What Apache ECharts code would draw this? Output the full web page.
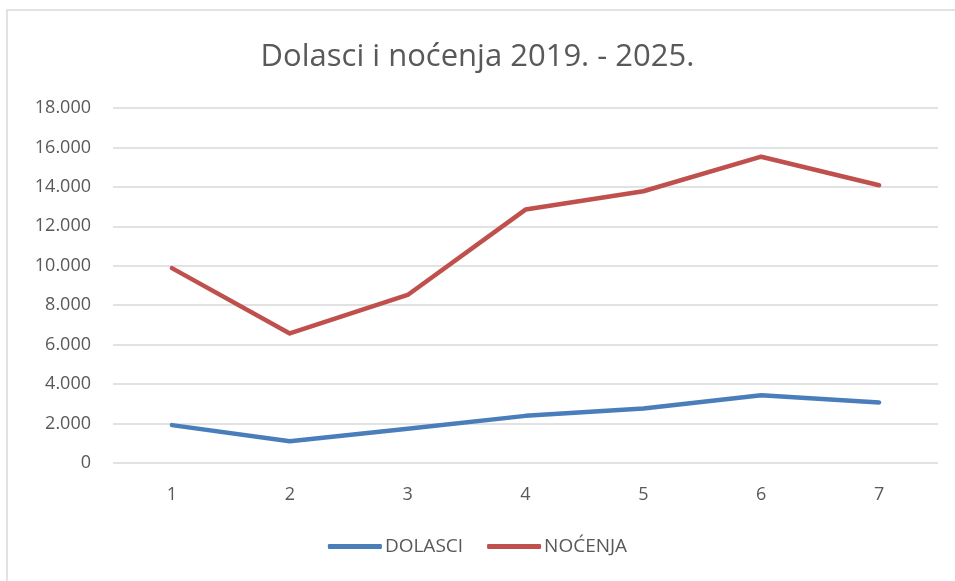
<!DOCTYPE html>
<html>
<head>
<meta charset="utf-8">
<script src="https://cdn.jsdelivr.net/npm/echarts@6/dist/echarts.min.js"></script>
<style>
  html, body { margin: 0; padding: 0; background: #fff; }
  #chart { width: 955px; height: 581px; }
</style>
</head>
<body>
<div id="chart"></div>
<script>
// podaci
const categories = ['1', '2', '3', '4', '5', '6', '7'];
const dolasci = [1920, 1100, 1740, 2390, 2760, 3440, 3070];
const nocenja = [9880, 6570, 8520, 12850, 13780, 15530, 14080];
const yTicks = [0, 2000, 4000, 6000, 8000, 10000, 12000, 14000, 16000, 18000];

const textColor = '#595959';
const fontFamily = '"Open Sans", "Noto Sans", sans-serif';

const chart = echarts.init(document.getElementById('chart'));

const option = {
  animation: false,
  backgroundColor: '#fff',
  title: {
    text: 'Dolasci i noćenja 2019. - 2025.',
    left: 'center',
    top: 37,
    textStyle: { color: textColor, fontSize: 31, fontWeight: 'normal', fontFamily: fontFamily }
  },
  graphic: [{
    type: 'rect',
    shape: { x: 7, y: 10, width: 1000, height: 1000 },
    style: { fill: 'none', stroke: '#d9d9d9', lineWidth: 1.5 },
    silent: true
  }],
  legend: {
    bottom: 20,
    left: 'center',
    itemWidth: 54,
    itemHeight: 5,
    itemGap: 24,
    icon: 'roundRect',
    textStyle: { color: textColor, fontSize: 19, fontFamily: fontFamily, padding: [0, 0, 0, -2] },
    data: ['DOLASCI', 'NOĆENJA']
  },
  grid: { left: 113, right: 17, top: 108, bottom: 118 },
  xAxis: {
    type: 'category',
    data: categories,
    boundaryGap: true,
    axisLine: { show: false },
    axisTick: { show: false },
    axisLabel: { color: textColor, fontSize: 18, margin: 23, fontFamily: fontFamily }
  },
  yAxis: {
    type: 'value',
    min: yTicks[0],
    max: yTicks[yTicks.length - 1],
    interval: 2000,
    axisLine: { show: false },
    axisTick: { show: false },
    splitLine: { lineStyle: { color: '#d9d9d9', width: 1.5 } },
    axisLabel: {
      color: textColor,
      fontSize: 18,
      margin: 22,
      fontFamily: fontFamily,
      formatter: v => v === 0 ? '0' : v.toLocaleString('de-DE')
    }
  },
  series: [
    {
      name: 'DOLASCI',
      type: 'line',
      data: dolasci,
      symbol: 'none',
      lineStyle: { color: '#4a7ebb', width: 4.5, cap: 'round', join: 'round' },
      itemStyle: { color: '#4a7ebb' }
    },
    {
      name: 'NOĆENJA',
      type: 'line',
      data: nocenja,
      symbol: 'none',
      lineStyle: { color: '#c0504d', width: 4.5, cap: 'round', join: 'round' },
      itemStyle: { color: '#c0504d' }
    }
  ]
};

chart.setOption(option);
</script>
</body>
</html>
